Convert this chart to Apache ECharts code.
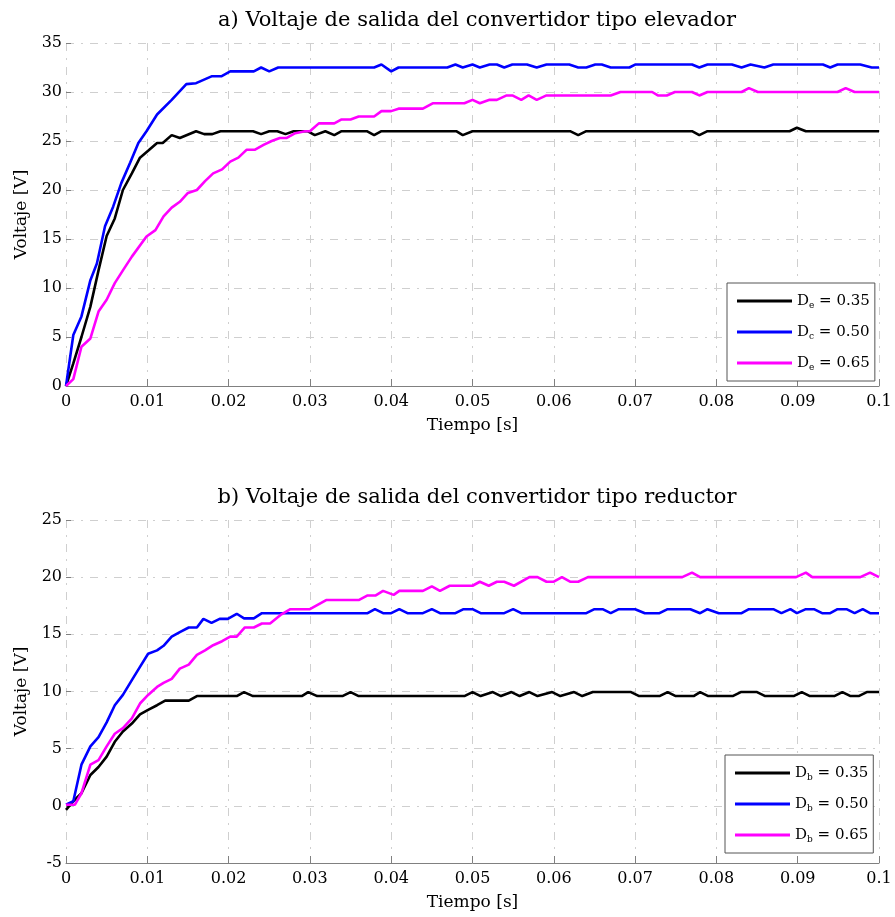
<!DOCTYPE html>
<html>
<head>
<meta charset="utf-8">
<script src="https://cdn.jsdelivr.net/npm/echarts@6/dist/echarts.min.js"></script>
<style>html,body{margin:0;padding:0;background:#fff;}#c{width:895px;height:917px;}</style>
</head>
<body>
<div id="c"></div>
<script>
// ---- data ----
var titleA = 'a) Voltaje de salida del convertidor tipo elevador';
var titleB = 'b) Voltaje de salida del convertidor tipo reductor';
var xName = 'Tiempo [s]';
var yName = 'Voltaje [V]';

var namesA = ['De = 0.35', 'Dc = 0.50', 'De = 0.65'];
var namesB = ['Db = 0.35', 'Db = 0.50', 'Db = 0.65'];

var boostD35 = [[0,0],[0.0009,2.3],[0.0019,5.0],[0.003,8.1],[0.004,11.8],[0.005,15.3],[0.006,17.1],[0.007,20.0],[0.0081,21.7],[0.0091,23.3],[0.0101,24.0],[0.0112,24.8],[0.0119,24.8],[0.013,25.6],[0.014,25.3],[0.016,26.0],[0.017,25.7],[0.018,25.7],[0.019,26.0],[0.023,26.0],[0.024,25.7],[0.025,26.0],[0.026,26.0],[0.027,25.7],[0.028,26.0],[0.0297,26.0],[0.0306,25.6],[0.0319,26.0],[0.033,25.6],[0.0339,26.0],[0.037,26.0],[0.0379,25.6],[0.0388,26.0],[0.048,26.0],[0.0488,25.6],[0.05,26.0],[0.062,26.0],[0.063,25.6],[0.064,26.0],[0.077,26.0],[0.0779,25.6],[0.0789,26.0],[0.089,26.0],[0.0899,26.35],[0.091,26.0],[0.1,26.0]];

var boostD50 = [[0,0],[0.0009,5.2],[0.0019,7.1],[0.003,10.8],[0.0038,12.5],[0.0048,16.3],[0.0058,18.3],[0.0068,20.7],[0.0079,22.8],[0.0089,24.8],[0.0099,26.0],[0.0112,27.7],[0.013,29.2],[0.0148,30.8],[0.016,30.9],[0.0179,31.6],[0.0191,31.6],[0.0202,32.1],[0.0231,32.1],[0.024,32.5],[0.025,32.1],[0.0261,32.5],[0.0379,32.5],[0.0388,32.8],[0.040,32.1],[0.0409,32.5],[0.0469,32.5],[0.0479,32.8],[0.0488,32.5],[0.05,32.8],[0.0509,32.5],[0.0521,32.8],[0.053,32.8],[0.0539,32.5],[0.0549,32.8],[0.0567,32.8],[0.0579,32.5],[0.0591,32.8],[0.0619,32.8],[0.063,32.5],[0.064,32.5],[0.0651,32.8],[0.0659,32.8],[0.067,32.5],[0.0693,32.5],[0.07,32.8],[0.077,32.8],[0.0779,32.5],[0.0789,32.8],[0.0819,32.8],[0.0831,32.5],[0.0842,32.8],[0.0859,32.5],[0.087,32.8],[0.0931,32.8],[0.094,32.5],[0.0949,32.8],[0.0977,32.8],[0.0991,32.5],[0.1,32.5]];

var boostD65 = [[0,0],[0.0009,0.7],[0.0019,4.0],[0.003,4.85],[0.004,7.6],[0.005,8.8],[0.006,10.5],[0.007,11.8],[0.0081,13.2],[0.0099,15.25],[0.011,15.9],[0.012,17.3],[0.013,18.2],[0.014,18.8],[0.015,19.7],[0.0161,20.0],[0.0171,20.9],[0.0181,21.7],[0.0192,22.1],[0.0202,22.9],[0.0212,23.3],[0.0222,24.1],[0.0232,24.1],[0.0243,24.6],[0.0253,25.0],[0.0263,25.3],[0.0271,25.3],[0.0282,25.8],[0.0294,26.0],[0.03,26.0],[0.0311,26.8],[0.033,26.8],[0.0339,27.2],[0.035,27.2],[0.036,27.5],[0.0379,27.5],[0.0388,28.05],[0.040,28.05],[0.0409,28.3],[0.0439,28.3],[0.0451,28.85],[0.049,28.85],[0.05,29.2],[0.0509,28.85],[0.0521,29.2],[0.053,29.2],[0.0542,29.65],[0.0549,29.65],[0.056,29.2],[0.0569,29.65],[0.0579,29.2],[0.0591,29.65],[0.067,29.65],[0.0682,30.0],[0.0721,30.0],[0.0728,29.65],[0.0739,29.65],[0.0749,30.0],[0.077,30.0],[0.0779,29.65],[0.0789,30.0],[0.0831,30.0],[0.084,30.4],[0.0851,30.0],[0.0949,30.0],[0.0959,30.4],[0.097,30.0],[0.1,30.0]];

var buckD35 = [[0,-0.35],[0.0009,0.4],[0.0019,1.1],[0.003,2.7],[0.004,3.4],[0.005,4.3],[0.006,5.6],[0.007,6.5],[0.0081,7.2],[0.0091,8.0],[0.0101,8.4],[0.0112,8.8],[0.0122,9.2],[0.0151,9.2],[0.0161,9.6],[0.021,9.6],[0.0219,9.95],[0.023,9.6],[0.029,9.6],[0.0298,9.95],[0.0309,9.6],[0.034,9.6],[0.035,9.95],[0.036,9.6],[0.049,9.6],[0.050,9.95],[0.051,9.6],[0.0525,9.95],[0.0535,9.6],[0.0548,9.95],[0.0558,9.6],[0.057,9.95],[0.058,9.6],[0.0598,9.95],[0.0608,9.6],[0.0625,9.95],[0.0635,9.6],[0.0648,9.95],[0.0695,9.95],[0.0705,9.6],[0.073,9.6],[0.074,9.95],[0.075,9.6],[0.0772,9.6],[0.078,9.95],[0.079,9.6],[0.082,9.6],[0.083,9.95],[0.085,9.95],[0.086,9.6],[0.0895,9.6],[0.0905,9.95],[0.0915,9.6],[0.0945,9.6],[0.0955,9.95],[0.0965,9.6],[0.0975,9.6],[0.0985,9.95],[0.1,9.95]];

var buckD50 = [[0,0.1],[0.0009,0.4],[0.0019,3.6],[0.003,5.2],[0.004,6.0],[0.005,7.3],[0.006,8.8],[0.007,9.7],[0.0081,11.0],[0.0091,12.15],[0.0101,13.3],[0.0112,13.6],[0.012,14.0],[0.013,14.8],[0.014,15.2],[0.0151,15.6],[0.0161,15.6],[0.0169,16.35],[0.0179,16.0],[0.0189,16.35],[0.0199,16.35],[0.021,16.8],[0.0219,16.4],[0.0231,16.4],[0.0241,16.85],[0.0371,16.85],[0.038,17.2],[0.039,16.85],[0.040,16.85],[0.041,17.2],[0.042,16.85],[0.0439,16.85],[0.045,17.2],[0.046,16.85],[0.0479,16.85],[0.0489,17.2],[0.05,17.2],[0.051,16.85],[0.0539,16.85],[0.055,17.2],[0.056,16.85],[0.064,16.85],[0.065,17.2],[0.066,17.2],[0.067,16.85],[0.068,17.2],[0.07,17.2],[0.0712,16.85],[0.073,16.85],[0.074,17.2],[0.0768,17.2],[0.078,16.85],[0.0789,17.2],[0.0803,16.85],[0.0831,16.85],[0.084,17.2],[0.087,17.2],[0.088,16.85],[0.0891,17.2],[0.0899,16.85],[0.091,17.2],[0.092,17.2],[0.093,16.85],[0.094,16.85],[0.0949,17.2],[0.096,17.2],[0.097,16.85],[0.098,17.2],[0.0989,16.85],[0.1,16.85]];

var buckD65 = [[0,0.1],[0.0011,0.1],[0.0019,1.1],[0.003,3.6],[0.004,4.0],[0.005,5.2],[0.006,6.3],[0.007,6.8],[0.0081,7.65],[0.0091,8.95],[0.0101,9.7],[0.0112,10.4],[0.012,10.75],[0.013,11.1],[0.014,12.0],[0.0151,12.35],[0.0161,13.2],[0.0171,13.6],[0.0181,14.05],[0.0192,14.4],[0.0202,14.8],[0.021,14.8],[0.022,15.6],[0.0231,15.6],[0.0241,15.95],[0.0251,15.95],[0.0265,16.75],[0.0276,17.2],[0.03,17.2],[0.032,18.0],[0.036,18.0],[0.0371,18.4],[0.0381,18.4],[0.039,18.8],[0.0403,18.45],[0.041,18.8],[0.0439,18.8],[0.045,19.2],[0.046,18.8],[0.0472,19.25],[0.05,19.25],[0.0509,19.6],[0.052,19.25],[0.053,19.6],[0.0539,19.6],[0.0551,19.25],[0.057,20.0],[0.058,20.0],[0.0591,19.6],[0.06,19.6],[0.061,20.0],[0.062,19.6],[0.063,19.6],[0.0642,20.0],[0.0758,20.0],[0.077,20.4],[0.078,20.0],[0.0898,20.0],[0.091,20.4],[0.0918,20.0],[0.0977,20.0],[0.0989,20.4],[0.1,20.0]];

var xTicksMin = 0, xTicksMax = 0.1, xTicksStep = 0.01;
var yA = {min: 0, max: 35, step: 5};
var yB = {min: -5, max: 25, step: 5};

var colors = ['#000000', '#0000ff', '#ff00ff'];

// ---- chart ----
var FONT = 'DejaVu Serif';
var chart = echarts.init(document.getElementById('c'), null, {renderer: 'canvas'});

function xAxisFor(gi) {
  return {
    type: 'value', gridIndex: gi, min: xTicksMin, max: xTicksMax, interval: xTicksStep,
    name: xName, nameLocation: 'middle', nameGap: 31,
    nameTextStyle: {fontFamily: FONT, fontSize: 17, color: '#000'},
    axisLine: {show: true, onZero: false, lineStyle: {color: '#808080', width: 1}},
    axisTick: {show: true, inside: true, length: 7, lineStyle: {color: '#808080'}},
    axisLabel: {fontFamily: FONT, fontSize: 16, color: '#000', margin: 8,
      formatter: function (v) { return String(+v.toFixed(2)); }},
    splitLine: {show: true, lineStyle: {color: '#cfcfcf', width: 1, type: [8, 7, 2, 7]}}
  };
}
function yAxisFor(gi, r) {
  return {
    type: 'value', gridIndex: gi, min: r.min, max: r.max, interval: r.step,
    name: yName, nameLocation: 'middle', nameGap: 36, nameRotate: 90,
    nameTextStyle: {fontFamily: FONT, fontSize: 17, color: '#000'},
    axisLine: {show: false},
    axisTick: {show: true, inside: true, length: 5, lineStyle: {color: '#808080'}},
    axisLabel: {fontFamily: FONT, fontSize: 16, color: '#000', margin: 4},
    splitLine: {show: true, lineStyle: {color: '#cfcfcf', width: 1, type: [8, 7, 2, 7]}}
  };
}
function mkSeries(name, data, c, gi) {
  return {
    type: 'line', name: name, data: data, xAxisIndex: gi, yAxisIndex: gi,
    symbol: 'none', showSymbol: false, animation: false,
    lineStyle: {color: c, width: 2.6}, itemStyle: {color: c}
  };
}
function legendFor(names, left, top) {
  return {
    data: names, orient: 'vertical', left: left, top: top,
    icon: 'rect', itemWidth: 55, itemHeight: 3, itemGap: 13,
    padding: [9, 5, 9, 10],
    backgroundColor: '#fff', borderColor: '#555', borderWidth: 1,
    selectedMode: false,
    textStyle: {fontFamily: FONT, fontSize: 15, color: '#000', lineHeight: 18,
      rich: {s: {fontFamily: FONT, fontSize: 9, color: '#000', lineHeight: 18, padding: [9, 0, 0, 0]}}},
    formatter: function (n) {
      var parts = n.split(' = ');
      return 'D{s|' + parts[0].slice(1) + '} = ' + parts[1];
    }
  };
}

var option = {
  backgroundColor: '#fff',
  animation: false,
  title: [
    {text: titleA, left: 472, top: 5, textAlign: 'center',
      textStyle: {fontFamily: FONT, fontSize: 21, fontWeight: 'normal', color: '#000'}},
    {text: titleB, left: 472, top: 482, textAlign: 'center',
      textStyle: {fontFamily: FONT, fontSize: 21, fontWeight: 'normal', color: '#000'}}
  ],
  grid: [
    {left: 66, top: 43, width: 813, height: 343},
    {left: 66, top: 520, width: 813, height: 343}
  ],
  xAxis: [xAxisFor(0), xAxisFor(1)],
  yAxis: [yAxisFor(0, yA), yAxisFor(1, yB)],
  legend: [legendFor(namesA, 727, 283), legendFor(namesB, 725, 755)],
  series: [
    mkSeries(namesA[0], boostD35, colors[0], 0),
    mkSeries(namesA[1], boostD50, colors[1], 0),
    mkSeries(namesA[2], boostD65, colors[2], 0),
    mkSeries(namesB[0], buckD35, colors[0], 1),
    mkSeries(namesB[1], buckD50, colors[1], 1),
    mkSeries(namesB[2], buckD65, colors[2], 1)
  ]
};
chart.setOption(option);
</script>
</body>
</html>
